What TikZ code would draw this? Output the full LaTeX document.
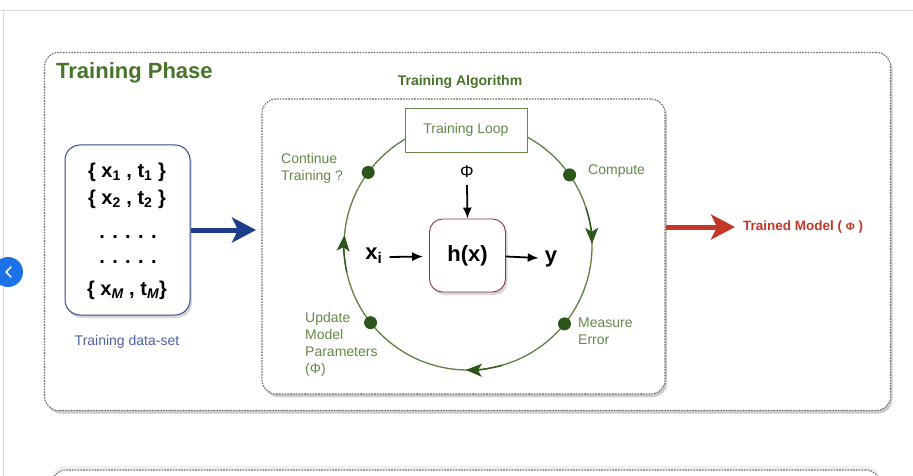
\documentclass[tikz,border=0pt]{standalone}
\usepackage{fontspec}
\setmainfont{Liberation Sans}
\usetikzlibrary{shadows,arrows.meta,calc}
\definecolor{tgreen}{RGB}{72,116,42}
\definecolor{lgreen}{RGB}{98,138,72}
\definecolor{dgreen}{RGB}{44,86,28}
\definecolor{cgreen}{RGB}{92,130,66}
\definecolor{dblue}{RGB}{30,60,140}
\definecolor{bblue}{RGB}{50,75,140}
\definecolor{tblue}{RGB}{75,98,165}
\definecolor{tred}{RGB}{195,55,40}
\definecolor{hred}{RGB}{140,50,80}
\definecolor{dotgray}{RGB}{105,105,105}
\definecolor{uiblue}{RGB}{26,115,232}
\begin{document}
\begin{tikzpicture}[x=1pt,y=-1pt,
  phasebox/.style={draw=dotgray, line width=1.1pt, dash pattern=on 1.6pt off 1.2pt,
    rounded corners=14pt, fill=white, inner sep=0pt,
    drop shadow={shadow xshift=2pt, shadow yshift=-3pt, opacity=0.4}},
  lbl/.style={text=lgreen, font=\fontsize{14}{17}\selectfont, align=left, inner sep=0pt},
  dot/.style={circle, fill=dgreen, minimum size=13pt, inner sep=0pt},
  circ/.style={draw=cgreen, line width=1.3pt},
  ctip/.style={circ, -{Stealth[length=16pt,width=13pt,inset=4pt]}, dgreen},
  blk/.style={line width=1.8pt, -{Latex[length=11pt,width=9pt]}},
  datatxt/.style={font=\fontsize{20}{24}\selectfont\bfseries, inner sep=0pt},
  bigarrow/.style={line width=5pt, -{Stealth[length=24pt,width=25pt,inset=6pt]}}
]
\useasboundingbox (0,0) rectangle (913,476);
% page frame (screenshot)
\draw[black!15, line width=1pt] (0,11) -- (913,11);
\draw[black!15, line width=1pt] (3,11) -- (3,476);

% bottom partial box
\node[phasebox, minimum width=828pt, minimum height=100pt,
  drop shadow={shadow xshift=0pt, shadow yshift=4pt, opacity=0.12}] (next) at (466,520) {};

% outer box
\node[phasebox, minimum width=846pt, minimum height=358pt] (outer) at (467.5,231.5) {};
\node[text=tgreen, font=\fontsize{22}{26}\selectfont\bfseries, anchor=west, inner sep=0pt] (phase) at (56,73) {Training Phase};

% UI button
\node[circle, fill=uiblue, minimum size=30pt, inner sep=0pt] (btn) at (8,272) {};
\draw[white, line width=1.6pt, line cap=round, line join=round] ($(btn)+(3,-5)$) -- ($(btn)+(-2,0)$) -- ($(btn)+(3,5)$);

% inner box
\node[phasebox, minimum width=403pt, minimum height=295pt] (inner) at (463.5,246.5) {};
\node[text=tgreen, font=\fontsize{14}{17}\selectfont\bfseries, inner sep=0pt] (algo) at (460,82) {Training Algorithm};

% loop circle
\coordinate (c) at (468,246);
\draw[circ] (c) circle[radius=124];
\draw[ctip] ($(c)+(-18:124)$) arc[start angle=-18, end angle=-1, radius=124];
\draw[ctip] ($(c)+(74:124)$) arc[start angle=74, end angle=91, radius=124];
\draw[ctip] ($(c)+(168:124)$) arc[start angle=168, end angle=185, radius=124];

\node[draw=lgreen, line width=0.9pt, fill=white, minimum width=122pt, minimum height=44pt,
  text=lgreen, font=\fontsize{14}{17}\selectfont] (loop) at (466,130) {Training Loop};

\node[dot] (d1) at ($(c)+(-143.6:124)$) {};
\node[dot] (d2) at ($(c)+(-35:124)$) {};
\node[dot] (d3) at ($(c)+(141.8:124)$) {};
\node[dot] (d4) at ($(c)+(38.9:124)$) {};

\node[lbl, anchor=west] (l1) at (281,168) {Continue\\Training ?};
\node[lbl, anchor=west] (l2) at (588,171) {Compute};
\node[lbl, anchor=north west] (l3) at (305,312) {Update\\Model\\Parameters\\(Φ)};
\node[lbl, anchor=west] (l4) at (578,331) {Measure\\Error};

% model
\node[draw=hred, line width=0.9pt, fill=white, rounded corners=13pt, minimum width=76pt, minimum height=73pt,
  font=\fontsize{22}{26}\selectfont\bfseries,
  drop shadow={shadow xshift=2pt, shadow yshift=-3pt, opacity=0.3}] (h) at (467.5,255.5) {h(x)};
\node[font=\fontsize{17}{20}\selectfont, inner sep=0pt] (phi) at (467,172) {Φ};
\coordinate (phiend) at (467,185);
\draw[blk] (phiend) -- (h.north);
\node[font=\fontsize{22}{26}\selectfont\bfseries, inner sep=0pt] (xi) at (374,256) {x\textsubscript{i}};
\draw[blk] ($(xi.east)+(7,1)$) -- ($(h.west)+(-6,1)$);
\node[font=\fontsize{22}{26}\selectfont\bfseries, inner sep=0pt] (y) at (551,259) {y};
\draw[blk] ($(h.east)+(0,1)$) -- ($(y.west)+(-6,-1)$);

% data set
\node[draw=bblue, line width=1pt, fill=white, rounded corners=15pt, minimum width=125pt, minimum height=170pt,
  drop shadow={shadow xshift=2pt, shadow yshift=-3pt, opacity=0.3}] (data) at (127.5,230) {};
\node[datatxt] (r1) at (127,172) {\{ x\textsubscript{1} , t\textsubscript{1} \}};
\node[datatxt] (r2) at (127,199) {\{ x\textsubscript{2} , t\textsubscript{2} \}};
\node[datatxt] (r3) at (128,237) {. . . . .};
\node[datatxt] (r4) at (128,262) {. . . . .};
\node[datatxt] (r5) at (127,290) {\{ x\textsubscript{\itshape M} , t\textsubscript{\itshape M}\}};
\node[text=tblue, font=\fontsize{14}{17}\selectfont, inner sep=0pt] (dlab) at (127,342) {Training data-set};

% big arrows
\draw[bigarrow, dblue] (data.east |- 0,230) -- (256,230);
\coordinate (tm) at (735,227);
\draw[bigarrow, tred] (inner.east |- 0,227) -- (tm);
\node[text=tred, font=\fontsize{13.5}{16}\selectfont\bfseries, anchor=west, inner sep=0pt] (trained) at (743,227) {Trained Model ( {\fontsize{11}{13}\selectfont Φ} )};
\end{tikzpicture}
\end{document}
